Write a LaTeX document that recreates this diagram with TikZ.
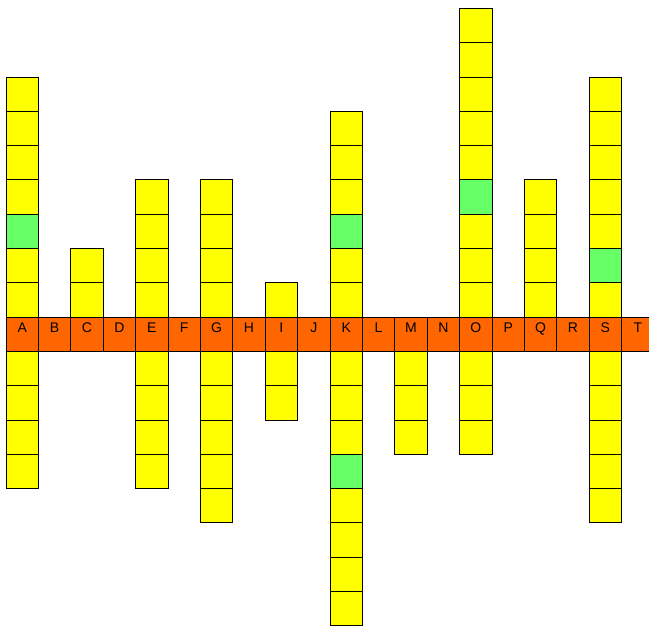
\documentclass[tikz,border=0pt]{standalone}
\usepackage{fontspec}
\setmainfont{Liberation Sans}
\definecolor{cellyellow}{HTML}{FFFF00}
\definecolor{cellgreen}{HTML}{66FF66}
\definecolor{cellorange}{HTML}{FF6600}
\begin{document}
\begin{tikzpicture}[x=1pt,y=-1pt,
  cell/.style={draw=black, line width=0.8pt, minimum width=32.4pt, minimum height=34.3pt,
    inner sep=0pt, outer sep=0pt, anchor=north west},
  ocell/.style={cell, fill=cellorange},
  lbl/.style={anchor=base, inner sep=0pt, font=\fontsize{14}{16}\selectfont}]
\useasboundingbox (0,0) rectangle (649,625);
\clip (0,0) rectangle (649,625);
% vertical columns: letter/index/up/down/green-up/green-down
\foreach \c/\i/\up/\dn/\gu/\gd in {A/0/7/4/3/0, C/2/2/0/0/0, E/4/4/4/0/0, G/6/4/5/0/0,
    I/8/1/2/0/0, K/10/6/8/3/4, M/12/0/3/0/0, O/14/9/3/4/0, Q/16/4/0/0/0, S/18/7/5/2/0} {
  \ifnum\up>0
    \foreach \r in {1,...,\up} {
      \def\fc{cellyellow}\ifnum\r=\gu\def\fc{cellgreen}\fi
      \node[cell, fill=\fc] (\c u\r) at ({6+32.4*\i},{317-34.3*\r}) {};
    }
  \fi
  \ifnum\dn>0
    \foreach \r in {1,...,\dn} {
      \def\fc{cellyellow}\ifnum\r=\gd\def\fc{cellgreen}\fi
      \node[cell, fill=\fc] (\c d\r) at ({6+32.4*\i},{317+34.3*\r}) {};
    }
  \fi
}
% orange row with letters
\foreach \l [count=\i from 0] in {A,B,C,D,E,F,G,H,I,J,K,L,M,N,O,P,Q,R,S,T} {
  \node[ocell] (\l0) at ({6+32.4*\i},317) {};
  \node[lbl] (lab\l) at ({22.2+32.4*\i},332) {\l};
}
\end{tikzpicture}
\end{document}
